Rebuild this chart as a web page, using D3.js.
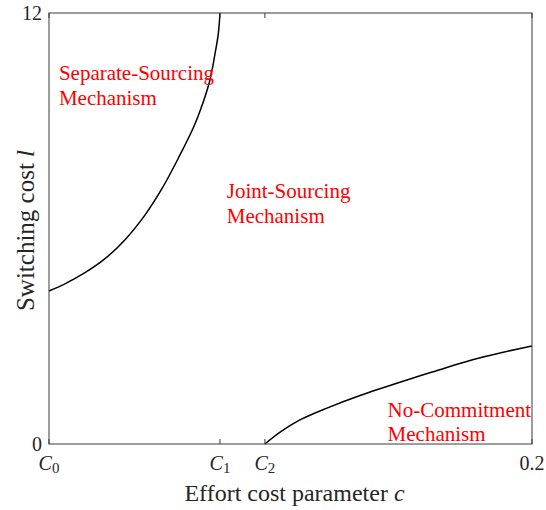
<!DOCTYPE html>
<html>
<head>
<meta charset="utf-8">
<script src="https://cdn.jsdelivr.net/npm/d3@7"></script>
<style>
  body { margin: 0; background: #fff; }
  text { font-family: "Liberation Serif", "Times New Roman", serif; }
</style>
</head>
<body>
<svg id="chart" width="546" height="510"></svg>
<script>
// Regions of the sourcing mechanism in (c, l) space
const C0 = 0, C1 = 0.0708, C2 = 0.0894, C_MAX = 0.2;
const L_MAX = 12;

// Boundary between separate-sourcing and joint-sourcing
const upperC = [0, 0.0066, 0.0149, 0.0232, 0.0315, 0.0398, 0.0467, 0.0535,
                0.0598, 0.0639, 0.0667, 0.0687, 0.0701, C1];
const upperL = [4.26, 4.46, 4.77, 5.16, 5.69, 6.38, 7.10, 7.95,
                8.81, 9.53, 10.15, 10.85, 11.42, 12];

// Boundary between joint-sourcing and no-commitment
const lowerC = [C2, 0.0957, 0.1039, 0.1151, 0.1288, 0.1495, 0.1590, 0.1797, C_MAX];
const lowerL = [0, 0.33, 0.67, 1.0, 1.35, 1.81, 2.01, 2.42, 2.73];

const xTicks = [C0, C1, C2, C_MAX];
const xTickLabels = [['C', '0'], ['C', '1'], ['C', '2'], ['0.2', '']];
const yTicks = [0, 12];

const regionLabels = [
  { c: 0.0041, l: 10.13, lines: ['Separate-Sourcing', 'Mechanism'] },
  { c: 0.0736, l: 6.84, lines: ['Joint-Sourcing', 'Mechanism'] },
  { c: 0.1402, l: 0.76, lines: ['No-Commitment', 'Mechanism'] }
];

const margin = { left: 49, right: 14, top: 13, bottom: 66 };
const width = 546, height = 510;
const AXIS_COLOR = '#3a3a3a';

const svg = d3.select('#chart');

const x = d3.scaleLinear()
  .domain([C0, C_MAX])
  .range([margin.left, width - margin.right]);
const y = d3.scaleLinear()
  .domain([0, L_MAX])
  .range([height - margin.bottom, margin.top]);

const line = d3.line()
  .x(d => x(d[0]))
  .y(d => y(d[1]))
  .curve(d3.curveCatmullRom.alpha(0.5));

// curves
[[upperC, upperL], [lowerC, lowerL]].forEach(([cs, ls]) => {
  svg.append('path')
    .datum(cs.map((c, i) => [c, ls[i]]))
    .attr('d', line)
    .attr('fill', 'none')
    .attr('stroke', '#000')
    .attr('stroke-width', 1.5);
});

// box + inward ticks
const g = svg.append('g').attr('class', 'axes');
g.append('rect')
  .attr('x', x(C0)).attr('y', y(L_MAX))
  .attr('width', x(C_MAX) - x(C0))
  .attr('height', y(0) - y(L_MAX))
  .attr('fill', 'none')
  .attr('stroke', AXIS_COLOR)
  .attr('stroke-width', 1);

xTicks.forEach(t => {
  g.append('line')
    .attr('x1', x(t)).attr('x2', x(t))
    .attr('y1', y(0)).attr('y2', y(0) - 5)
    .attr('stroke', AXIS_COLOR);
  g.append('line')
    .attr('x1', x(t)).attr('x2', x(t))
    .attr('y1', y(L_MAX)).attr('y2', y(L_MAX) + 5)
    .attr('stroke', AXIS_COLOR);
});

// x tick labels
xTicks.forEach((t, i) => {
  const [main, sub] = xTickLabels[i];
  const txt = g.append('text')
    .attr('x', x(t))
    .attr('y', y(0) + 26)
    .attr('text-anchor', 'middle')
    .attr('font-size', 20)
    .attr('fill', '#262626');
  if (sub) {
    txt.append('tspan').attr('font-style', 'italic').text(main);
    txt.append('tspan').attr('font-size', 15).attr('dy', 3).text(sub);
  } else {
    txt.text(main);
  }
});

// y tick labels
yTicks.forEach(t => {
  g.append('text')
    .attr('x', margin.left - 7)
    .attr('y', y(t))
    .attr('dy', '0.35em')
    .attr('text-anchor', 'end')
    .attr('font-size', 20)
    .attr('fill', '#262626')
    .text(t);
});

// axis titles
const xt = svg.append('text')
  .attr('x', (x(C0) + x(C_MAX)) / 2 + 4)
  .attr('y', 501)
  .attr('text-anchor', 'middle')
  .attr('font-size', 24)
  .attr('fill', '#262626');
xt.append('tspan').text('Effort cost parameter ');
xt.append('tspan').attr('font-style', 'italic').text('c');

const yt = svg.append('text')
  .attr('transform', `translate(34,${(y(0) + y(L_MAX)) / 2 + 2}) rotate(-90)`)
  .attr('text-anchor', 'middle')
  .attr('font-size', 25)
  .attr('fill', '#262626');
yt.append('tspan').text('Switching cost ');
yt.append('tspan').attr('font-style', 'italic').text('l');

// region labels
regionLabels.forEach(r => {
  const t = svg.append('text')
    .attr('x', x(r.c))
    .attr('y', y(r.l))
    .attr('font-size', 21)
    .attr('fill', '#ff0000');
  r.lines.forEach((s, i) => {
    t.append('tspan')
      .attr('x', x(r.c))
      .attr('dy', i === 0 ? 0 : 24.5)
      .text(s);
  });
});
</script>
</body>
</html>
